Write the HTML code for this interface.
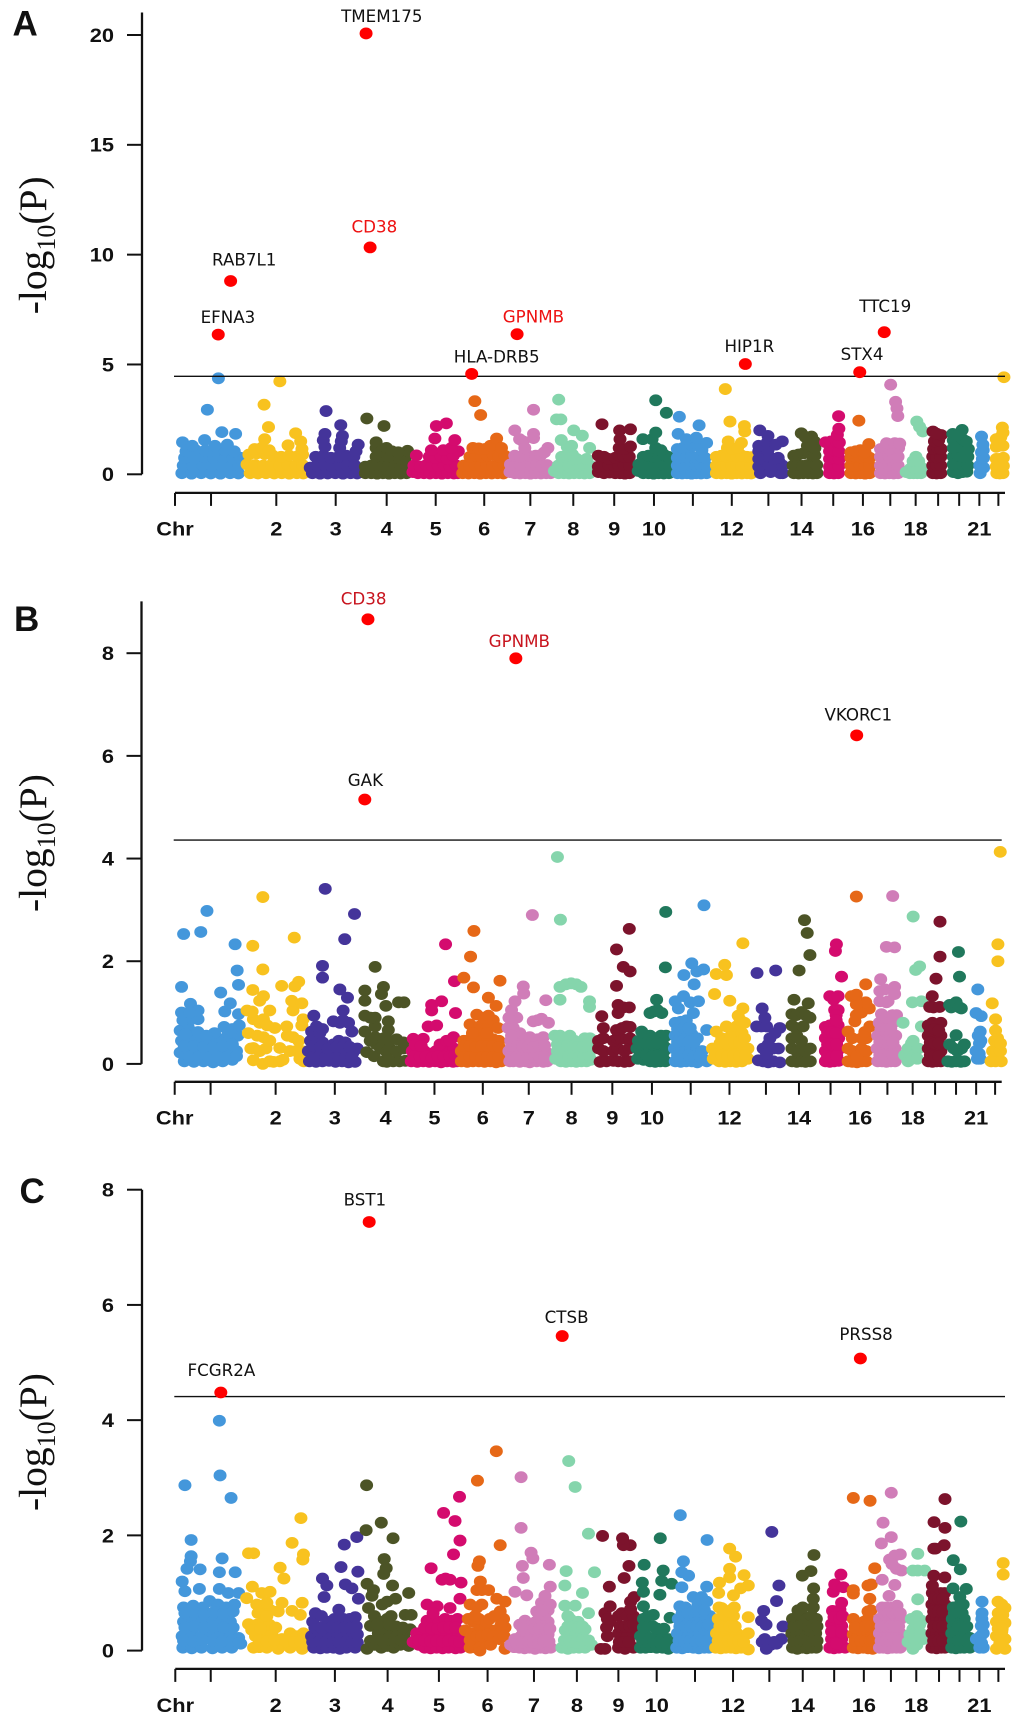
<!DOCTYPE html>
<html lang="en">
<head>
<meta charset="utf-8">
<title>Manhattan plots A, B and C</title>
<style>
html,body{margin:0;padding:0;background:#fff;}
svg{display:block;}
.letter{font-family:"Liberation Sans",sans-serif;font-weight:700;font-size:35px;fill:#111;}
.ytitle{font-family:"Liberation Serif",serif;font-size:39.5px;fill:#111;}
.tick{font-family:"Liberation Sans",sans-serif;font-weight:700;font-size:19.3px;fill:#111;}
.gene{font-family:"DejaVu Sans",sans-serif;font-size:16.7px;text-anchor:middle;}
</style>
</head>
<body>
<svg xmlns="http://www.w3.org/2000/svg" width="1020" height="1722" viewBox="0 0 1020 1722">
  <rect x="0" y="0" width="1020" height="1722" fill="#fff"></rect>
  <g>
    <text class="letter" x="12.5" y="35.7">A</text>
    <text class="ytitle" transform="translate(46,314.3)rotate(-90)">-log<tspan dy="9" font-size="26">10</tspan><tspan dy="-9">(P)</tspan></text>
    <g id="plot-a"></g>
  </g>
  <g>
    <text class="letter" x="14" y="631">B</text>
    <text class="ytitle" transform="translate(46,912)rotate(-90)">-log<tspan dy="9" font-size="26">10</tspan><tspan dy="-9">(P)</tspan></text>
    <g id="plot-b"></g>
  </g>
  <g>
    <text class="letter" x="19.5" y="1203">C</text>
    <text class="ytitle" transform="translate(46,1511)rotate(-90)">-log<tspan dy="9" font-size="26">10</tspan><tspan dy="-9">(P)</tspan></text>
    <g id="plot-c"></g>
  </g>
</svg>
<script>
// Genome layout: chromosome lengths in genome units; dot positions are percent along a chromosome.
const chromosomeLengths = [239,219,189,170,173,168,151,149,139,127,137,147,118,118,85,102,95,80,73,90,59,68];
const chromosomeColors = ['#4497DB','#F8C21F','#44349A','#4C5426','#D40B6E','#E66817','#D07DB8','#85D5AC','#7C132C','#20785C','#4497DB','#F8C21F','#44349A','#4C5426','#D40B6E','#E66817','#D07DB8','#85D5AC','#7C132C','#20785C','#4497DB','#F8C21F'];
const xTickLabels = ['Chr','','2','3','4','5','6','7','8','9','10','','12','','14','','16','','18','','','21',''];
const xTicksAB = [0,125,351.5,557.6,734.5,904.6,1073,1233,1382,1524,1662,1797,1932,2059,2174,2284,2387,2482,2570,2648,2721,2791,2857];
const xTicksC = [0,123,348.5,554,737,915,1084,1245,1394,1538,1671,1804,1936,2062,2178,2287,2390,2484,2572,2651,2722,2791,2857];

// Panel A: [percent along chromosome, -log10 P]
const a01 = [[10,.05],[24,.03],[38,.05],[52,.04],[66,.03],[80,.05],[92,.04],[12,.4],[26,.38],[40,.42],[54,.4],[68,.38],[82,.42],[93,.4],[14,.75],[28,.72],[42,.78],[56,.74],[70,.76],[84,.72],[95,.75],[16,1.05],[30,1.1],[44,1.08],[58,1.05],[72,1.1],[86,1.05],[11,1.46],[43,1.56],[25,1.3],[58,1.3],[76,1.35],[68,1.92],[88,1.84],[47,2.94],[63,4.37]];
const a02 = [[10,.05],[22,.04],[35,.05],[48,.04],[60,.05],[72,.03],[84,.05],[94,.04],[5,.45],[18,.42],[31,.4],[44,.44],[57,.4],[70,.42],[83,.4],[93,.42],[8,.9],[20,.95],[33,.92],[46,.85],[59,.8],[72,.85],[85,.82],[93,.9],[17,1.15],[28,1.2],[40,1.1],[33,1.6],[70,1.32],[82,1.87],[90,1.5],[92,1.15],[32,3.17],[39,2.15],[57,4.23]];
const a03 = [[10,.05],[24,.03],[38,.04],[52,.05],[66,.03],[80,.05],[92,.04],[6,.3],[18,.4],[32,.42],[46,.38],[60,.42],[74,.4],[88,.4],[16,.8],[30,.85],[44,.75],[58,.8],[72,.85],[86,.8],[33,1.25],[30,1.55],[33,1.84],[60,1.2],[63,1.5],[65,1.75],[62,2.24],[94,1.35],[90,1.05],[35,2.88]];
const a04 = [[8,.05],[20,.05],[32,.03],[44,.05],[56,.03],[68,.05],[80,.04],[92,.05],[8,.35],[20,.4],[32,.42],[44,.38],[56,.42],[68,.4],[80,.38],[92,.42],[30,.8],[42,.85],[54,.8],[66,.75],[78,.72],[90,.78],[30,1.2],[30,1.46],[40,1.05],[51,1.2],[62,1.05],[94,1.07],[75,1],[11,2.54],[46,2.2]];
const a05 = [[5,.1],[15,.05],[27,.05],[39,.04],[51,.05],[63,.03],[75,.05],[87,.04],[95,.05],[7,.4],[20,.35],[32,.42],[44,.4],[56,.38],[68,.42],[80,.35],[92,.4],[12,.86],[38,.8],[50,.75],[62,.8],[74,.7],[86,.85],[96,1.05],[42,1.1],[66,1.1],[82,1.2],[49,1.63],[89,1.56],[52,2.2],[72,2.32]];
const a06 = [[5,.05],[17,.04],[29,.05],[41,.03],[53,.05],[65,.04],[77,.05],[89,.04],[7,.4],[19,.4],[31,.42],[43,.38],[55,.42],[67,.38],[79,.42],[91,.4],[20,.8],[32,.85],[44,.8],[56,.85],[68,.9],[80,.8],[92,.85],[26,1.2],[38,1.18],[50,1.15],[62,1.3],[75,1.63],[85,1.2],[30,3.33],[42,2.7]];
const a07 = [[3,.1],[14,.05],[26,.04],[38,.05],[50,.03],[62,.05],[74,.04],[86,.05],[96,.05],[4,.45],[16,.4],[28,.42],[40,.38],[52,.42],[64,.4],[76,.38],[88,.42],[14,.85],[26,.8],[38,.85],[50,.82],[62,.85],[74,.88],[90,1.2],[82,1],[14,2],[25,1.6],[33,1.5],[57,1.84],[57,1.65],[57,2.94],[37,1.2]];
const a08 = [[5,.15],[15,.05],[27,.05],[39,.04],[51,.05],[63,.05],[75,.04],[87,.05],[14,.4],[26,.42],[38,.38],[50,.42],[62,.4],[74,.42],[88,.4],[22,.8],[35,.85],[47,.9],[57,.7],[80,.7],[21,1.56],[35,1.25],[45,1.3],[50,2],[70,1.76],[87,1.2],[10,2.5],[20,2.5],[15,3.4]];
const a09 = [[8,.1],[22,.05],[36,.08],[50,.05],[62,.05],[74,.03],[86,.05],[8,.35],[20,.4],[34,.42],[48,.4],[60,.38],[72,.42],[86,.4],[8,.85],[22,.8],[34,.7],[50,.75],[60,.85],[72,.8],[85,.8],[60,1.2],[72,1.15],[88,1.27],[62,1.6],[61,2],[88,2.05],[17,2.28]];
const a10 = [[8,.15],[22,.05],[36,.05],[50,.03],[64,.05],[78,.04],[92,.05],[10,.45],[24,.4],[38,.42],[52,.38],[66,.42],[80,.4],[92,.42],[22,.8],[36,.85],[50,.8],[64,.9],[78,.9],[90,.8],[56,1.2],[70,1.1],[21,1.6],[46,1.6],[56,1.9],[56,3.37],[85,2.8]];
const a11 = [[14,.05],[26,.04],[38,.05],[50,.03],[62,.05],[74,.04],[88,.05],[14,.4],[26,.38],[38,.42],[50,.4],[62,.38],[74,.42],[86,.4],[14,.75],[26,.8],[38,.78],[50,.82],[62,.76],[74,.8],[84,.75],[14,1.15],[28,1.2],[40,1.25],[52,1.3],[64,1.35],[76,1.1],[88,1.43],[16,1.84],[37,1.6],[62,1.67],[19,2.62],[69,2.23]];
const a12 = [[12,.05],[24,.04],[36,.05],[48,.03],[60,.05],[72,.04],[84,.05],[94,.04],[12,.4],[24,.42],[36,.38],[48,.4],[60,.42],[72,.38],[84,.4],[94,.42],[12,.8],[24,.85],[36,.8],[48,.85],[60,.82],[72,.85],[84,.8],[94,.78],[38,1.2],[50,1.15],[71,1.43],[62,1.2],[40,1.5],[44,2.4],[79,1.95],[78,2.2],[33,3.88]];
const a13 = [[20,.05],[35,.4],[50,.1],[78,.05],[85,.05],[15,.35],[30,.6],[45,.45],[60,.4],[75,.55],[85,.4],[15,.7],[30,.9],[45,.8],[60,.7],[72,.75],[15,1.05],[30,1.2],[42,1.1],[15,1.3],[40,1.45],[42,1.75],[84,1.5],[65,1.35],[18,2]];
const a14 = [[18,.05],[32,.04],[46,.05],[60,.05],[74,.04],[86,.05],[16,.4],[30,.42],[44,.38],[58,.42],[72,.4],[85,.42],[18,.85],[32,.9],[46,.95],[60,1],[72,.85],[80,.85],[58,1.3],[70,1.3],[80,1.2],[78,1.5],[70,1.72],[40,1.87],[52,1.7]];
const a15 = [[32,.05],[50,.04],[68,.05],[32,.35],[50,.4],[70,.38],[32,.7],[50,.75],[72,.7],[32,1.05],[52,1.1],[70,1.05],[16,1.46],[38,1.5],[60,1.5],[72,1.45],[64,1.8],[70,2.08],[69,2.65]];
const a16 = [[16,.05],[32,.04],[48,.05],[64,.03],[80,.05],[16,.4],[32,.38],[48,.42],[64,.4],[80,.38],[16,.75],[32,.8],[48,.78],[64,.8],[80,.75],[16,1],[32,1.05],[48,1.1],[64,1],[77,1.38],[43,2.44]];
const a17 = [[18,.05],[34,.04],[50,.05],[66,.04],[82,.05],[18,.4],[34,.42],[50,.38],[66,.42],[82,.4],[18,.8],[34,.75],[50,.8],[66,.78],[82,.8],[18,1.15],[34,1.2],[50,1.15],[66,1.2],[84,1.2],[40,1.42],[70,1.42],[88,1.4],[55,4.08],[73,3.3],[78,3],[81,2.65]];
const a18 = [[14,.1],[30,.05],[46,.05],[62,.05],[78,.05],[32,.25],[48,.3],[66,.3],[80,.3],[44,.6],[56,.8],[68,.6],[60,2.4],[72,2.16],[86,1.95]];
const a19 = [[32,.05],[50,.04],[70,.05],[32,.4],[50,.42],[70,.4],[32,.8],[50,.78],[70,.8],[36,1.15],[56,1.2],[72,1.15],[40,1.5],[60,1.55],[33,1.95],[72,1.79],[50,1.85]];
const a20 = [[24,.1],[42,.05],[60,.1],[76,.12],[24,.45],[42,.4],[60,.42],[80,.4],[24,.8],[42,.85],[60,.8],[80,.8],[24,1.2],[42,1.25],[60,1.2],[82,1.15],[24,1.55],[42,1.6],[60,1.6],[74,1.5],[22,1.84],[40,1.78],[58,2.02]];
const a21 = [[42,.05],[50,.3],[62,.3],[40,.4],[55,.7],[62,.75],[50,1],[60,1.1],[58,1.35],[50,1.72]];
const a22 = [[35,.05],[50,.04],[66,.05],[32,.35],[50,.4],[68,.38],[32,.7],[50,.7],[68,.75],[32,1.25],[50,1.3],[66,1.3],[32,1.6],[55,1.7],[66,1.9],[63,2.13],[71,4.42]];

// Panel B
const b01 = [[14,.05],[28,.04],[42,.05],[56,.03],[70,.05],[84,.08],[8,.22],[20,.25],[34,.22],[48,.2],[62,.25],[76,.22],[90,.25],[10,.45],[24,.5],[38,.45],[52,.42],[66,.48],[80,.5],[92,.55],[8,.65],[20,.7],[34,.62],[58,.6],[72,.72],[84,.68],[94,.75],[12,.85],[26,.88],[34,.87],[10,1],[23,1.17],[34,1.04],[22,1],[73,1.02],[93,.97],[81,1.18],[67,1.39],[10,1.5],[93,1.54],[91,1.82],[88,2.33],[13,2.53],[38,2.57],[47,2.98],[21,.14],[35,.14],[49,.13],[63,.14],[77,.14],[90,.15],[14,.35],[28,.35],[42,.33],[56,.32],[70,.35],[84,.38],[16,.58],[46,.55],[78,.6]];
const b02 = [[16,.07],[31,0],[42,.05],[48,.04],[58,.05],[63,.08],[90,.1],[96,.05],[12,.3],[16,.31],[26,.25],[36,.3],[58,.31],[74,.25],[84,.25],[93,.25],[8,.6],[22,.55],[32,.52],[42,.45],[79,.52],[88,.45],[70,.55],[50,.7],[69,.73],[16,.87],[26,.8],[32,.87],[38,.75],[93,.75],[95,.87],[6,1.04],[14,1.02],[42,1.04],[79,1.04],[26,1.23],[32,1.32],[77,1.23],[93,1.18],[15,1.44],[61,1.52],[82,1.51],[88,1.6],[31,1.84],[15,2.3],[81,2.46],[31,3.25]];
const b03 = [[6,.05],[18,.04],[30,.05],[42,.06],[54,.04],[66,.05],[78,.03],[90,.04],[4,.25],[14,.22],[26,.24],[38,.2],[50,.22],[62,.25],[74,.2],[86,.22],[94,.3],[8,.45],[19,.5],[30,.42],[50,.38],[60,.45],[72,.42],[10,.63],[19,.73],[25,.6],[14,.94],[30,.68],[50,.83],[62,.8],[68,.85],[78,.8],[84,.63],[68,1.04],[76,1.29],[62,1.45],[30,1.68],[30,1.91],[71,2.43],[89,2.92],[35,3.41],[12,.14],[24,.14],[36,.13],[48,.14],[60,.14],[72,.12],[84,.13],[14,.35],[26,.33],[40,.3],[56,.33],[68,.33],[80,.33]];
const b04 = [[13,.23],[28,.15],[47,.05],[54,.04],[67,.05],[80,.05],[92,.06],[33,.38],[42,.3],[54,.23],[60,.3],[74,.25],[88,.3],[20,.45],[30,.52],[47,.5],[60,.45],[74,.48],[88,.42],[9,.63],[30,.73],[57,.66],[9,.94],[30,.9],[57,.83],[20,.9],[52,1.13],[9,1.23],[9,1.43],[43,1.36],[47,1.5],[78,1.2],[89,1.2],[30,1.89]];
const b05 = [[4,.05],[16,.04],[28,.05],[40,.04],[52,.05],[64,.03],[76,.05],[88,.04],[96,.05],[6,.25],[18,.22],[30,.25],[42,.2],[54,.25],[66,.22],[78,.25],[90,.3],[8,.49],[28,.49],[18,.45],[62,.38],[75,.45],[89,.52],[82,.45],[38,.73],[55,.75],[45,1.04],[45,1.15],[65,1.22],[93,.99],[91,1.61],[73,2.33],[10,.15],[22,.14],[34,.15],[46,.12],[58,.15],[70,.14],[82,.15],[92,.17],[12,.37],[24,.35]];
const b06 = [[5,.05],[17,.04],[29,.05],[41,.05],[53,.04],[65,.05],[77,.03],[88,.05],[5,.25],[17,.22],[29,.25],[41,.2],[53,.25],[65,.22],[77,.25],[88,.22],[10,.45],[23,.48],[35,.42],[47,.5],[59,.45],[71,.48],[83,.45],[23,.77],[37,.65],[43,.73],[52,.8],[61,.75],[71,.85],[81,.7],[37,.96],[52,.9],[61,.94],[77,1.13],[61,1.29],[85,1.62],[10,1.68],[30,1.49],[24,2.09],[31,2.59],[11,.15],[23,.14],[35,.15],[47,.12],[59,.14],[71,.14],[83,.14],[11,.35],[23,.35],[35,.33],[47,.35],[59,.35],[71,.35],[83,.33],[28,.6],[58,.6]];
const b07 = [[6,.05],[14,.05],[29,.04],[42,.05],[52,.03],[68,.05],[83,.04],[92,.05],[4,.25],[16,.22],[29,.25],[42,.2],[55,.25],[68,.22],[80,.25],[91,.22],[8,.45],[20,.48],[29,.6],[42,.48],[52,.52],[64,.38],[70,.48],[83,.52],[2,.7],[14,.7],[22,.9],[4,.9],[10,1.05],[18,1.22],[60,.83],[70,.85],[79,.88],[95,.8],[89,1.24],[37,1.51],[38,1.37],[58,2.9],[10,.15],[22,.14],[35,.15],[48,.13],[62,.14],[74,.14],[86,.14],[10,.35],[24,.35],[36,.33],[48,.33],[60,.33],[74,.35],[86,.36],[10,.55]];
const b08 = [[12,.1],[24,.05],[36,.04],[48,.05],[60,.04],[72,.05],[84,.05],[94,.08],[16,.25],[28,.22],[40,.25],[52,.2],[64,.25],[76,.22],[88,.25],[10,.55],[22,.45],[34,.48],[45,.55],[56,.45],[68,.42],[80,.5],[92,.5],[22,.55],[91,1.22],[91,1.11],[22,1.25],[22,1.5],[36,1.55],[48,1.57],[60,1.55],[71,1.5],[23,2.81],[16,4.03],[18,.15],[30,.13],[42,.15],[54,.13],[66,.14],[78,.14],[90,.17],[16,.38],[28,.35],[40,.36],[52,.33],[64,.33],[76,.33],[88,.38]];
const b09 = [[17,.04],[33,.05],[50,.06],[62,.05],[78,.04],[90,.05],[13,.3],[25,.25],[50,.25],[62,.3],[78,.25],[90,.3],[13,.45],[25,.5],[50,.45],[60,.5],[70,.5],[83,.48],[92,.5],[25,.7],[58,.66],[72,.7],[83,.73],[92,.72],[21,.93],[62,.99],[62,1.15],[75,1.1],[90,1.1],[58,1.52],[75,1.89],[92,1.8],[58,2.23],[90,2.63]];
const b10 = [[12,.1],[28,.08],[46,.05],[60,.04],[74,.05],[88,.05],[10,.3],[24,.28],[40,.3],[56,.25],[70,.28],[84,.25],[92,.3],[23,.63],[14,.45],[32,.5],[46,.55],[60,.5],[76,.55],[90,.55],[46,.99],[56,1.02],[66,1.05],[78,.99],[64,1.25],[88,1.88],[89,2.96],[20,.18],[36,.18],[52,.15],[66,.16],[80,.15],[18,.4],[36,.4],[50,.4],[66,.4],[80,.4]];
const b11 = [[14,.05],[28,.04],[42,.05],[56,.05],[70,.03],[84,.1],[94,.05],[12,.3],[26,.3],[40,.28],[54,.3],[68,.25],[82,.25],[14,.55],[28,.6],[42,.55],[56,.58],[70,.5],[14,.8],[28,.82],[42,.85],[52,.7],[94,.66],[60,.99],[22,1.08],[35,1.32],[14,1.22],[52,1.2],[73,1.22],[62,1.55],[36,1.73],[69,1.8],[86,1.84],[56,1.96],[87,3.09],[20,.17],[34,.16],[48,.17],[62,.15],[76,.15],[20,.43],[34,.45],[48,.43],[62,.42],[20,.68],[36,.7],[48,.7]];
const b12 = [[10,.1],[24,.05],[38,.04],[50,.05],[64,.04],[78,.05],[92,.1],[8,.3],[20,.28],[32,.3],[44,.25],[56,.28],[68,.25],[80,.3],[92,.3],[17,.63],[30,.5],[41,.73],[52,.55],[65,.73],[78,.6],[84,.8],[69,.94],[80,1.08],[74,.85],[13,1.36],[49,1.23],[17,1.75],[41,1.73],[37,1.93],[80,2.35],[14,.18],[30,.17],[44,.15],[58,.16],[72,.15],[86,.17],[26,.4],[40,.4],[60,.42],[72,.42],[84,.5]];
const b13 = [[21,.07],[35,.05],[50,.03],[65,.05],[84,.03],[35,.3],[50,.38],[65,.3],[80,.3],[45,.2],[16,.73],[30,.73],[45,.73],[70,.6],[84,.7],[55,.5],[40,.9],[32,1.08],[17,1.77],[72,1.82]];
const b14 = [[20,.05],[34,.04],[48,.05],[60,.04],[74,.05],[20,.3],[34,.25],[48,.3],[60,.25],[74,.3],[20,.5],[34,.55],[48,.45],[20,.75],[32,.7],[53,.73],[20,.97],[33,.95],[48,1.01],[60,.95],[73,.9],[26,1.25],[68,1.18],[41,1.82],[73,2.12],[65,2.55],[57,2.8]];
const b15 = [[26,.05],[44,.04],[62,.05],[80,.06],[26,.25],[44,.22],[62,.25],[80,.28],[26,.5],[44,.52],[62,.48],[80,.5],[26,.72],[44,.75],[62,.7],[78,.75],[64,1.05],[78,1.05],[70,.95],[44,1.32],[60,1.25],[78,1.32],[92,1.7],[67,2.2],[71,2.33],[35,.15],[53,.13],[72,.16],[35,.38],[53,.38],[72,.38],[35,.62],[53,.62],[70,.6],[70,.85]];
const b16 = [[16,.05],[30,.04],[46,.03],[62,.05],[78,.05],[16,.3],[30,.25],[46,.15],[62,.3],[78,.25],[16,.63],[30,.5],[62,.5],[78,.5],[73,.62],[90,.73],[39,.83],[44,.95],[61,1],[88,1.08],[76,1.2],[44,1.16],[27,1.32],[44,1.35],[76,1.55],[44,3.26]];
const b17 = [[18,.05],[34,.05],[50,.04],[66,.05],[82,.05],[16,.3],[34,.28],[50,.3],[66,.25],[82,.3],[18,.55],[34,.55],[50,.5],[66,.55],[84,.55],[24,.8],[40,.8],[58,.8],[74,.8],[32,.97],[50,.9],[87,.95],[72,.95],[26,1.22],[50,1.2],[56,1.22],[26,1.42],[29,1.65],[45,1.45],[80,1.5],[80,1.36],[50,2.28],[80,2.27],[73,3.27],[26,.17],[42,.17],[58,.15],[74,.17],[26,.43],[42,.42],[58,.42],[74,.42],[30,.68],[50,.67],[66,.68]];
const b18 = [[20,.17],[35,.3],[50,.4],[64,.17],[80,.3],[57,.45],[35,.05],[50,.1],[75,.1],[93,.73],[13,.8],[54,1.2],[93,1.22],[68,1.83],[85,1.9],[57,2.87]];
const b19 = [[25,.05],[45,.04],[65,.05],[85,.05],[25,.3],[45,.25],[65,.3],[85,.25],[25,.55],[45,.55],[65,.5],[85,.55],[25,.75],[45,.8],[65,.75],[85,.8],[32,1.11],[50,1.1],[79,1.11],[44,1.32],[62,1.66],[81,2.09],[81,2.77],[35,.17],[55,.15],[75,.15],[35,.42],[55,.4],[75,.4],[35,.65],[55,.68],[75,.65]];
const b20 = [[15,.05],[30,.04],[47,.05],[65,.04],[79,.05],[22,.38],[38,.3],[52,.25],[68,.3],[47,.56],[79,.38],[28,1.1],[22,1.15],[38,1.15],[47,1.2],[60,1.1],[67,1.08],[60,1.7],[56,2.18]];
const b21 = [[45,.1],[60,.1],[37,.25],[55,.2],[57,.4],[65,.45],[50,.55],[61,.63],[67,.93],[37,.99],[47,1.45]];
const b22 = [[22,.05],[45,.05],[74,.05],[30,.25],[50,.25],[70,.25],[40,.45],[55,.5],[70,.4],[45,.65],[45,.87],[28,1.18],[57,2],[57,2.33],[69,4.13]];

// Panel C
const c01 = [[11,.05],[24,.04],[38,.05],[54,.04],[68,.05],[82,.05],[95,.12],[10,.25],[24,.28],[38,.25],[52,.3],[66,.28],[80,.25],[92,.22],[12,.5],[26,.55],[40,.52],[54,.55],[68,.5],[80,.5],[12,.75],[26,.78],[40,.75],[50,.86],[62,.8],[74,.75],[86,.8],[10,1.2],[14,1.03],[35,1.07],[64,1.07],[77,1],[92,1],[17,1.42],[36,1.41],[64,1.36],[87,1.36],[22,1.55],[23,1.64],[68,1.6],[23,1.92],[81,2.65],[14,2.87],[65,3.04],[64,3.99],[12,.17],[26,.16],[40,.18],[54,.17],[68,.16],[82,.17],[92,.13],[14,.4],[28,.42],[42,.4],[56,.42],[70,.4],[84,.4],[14,.65],[28,.66],[42,.65],[56,.67],[70,.64],[84,.68]];
const c02 = [[15,.05],[24,.06],[36,.05],[54,.03],[62,.1],[73,.05],[92,.03],[18,.25],[31,.3],[44,.3],[60,.2],[73,.3],[84,.25],[94,.3],[7,.46],[20,.45],[31,.5],[40,.45],[31,.68],[54,.68],[42,.7],[20,.8],[36,.83],[60,.83],[76,.69],[89,.62],[92,.83],[4,.91],[13,1.11],[28,1],[41,1.02],[57,1.44],[63,1.25],[7,1.69],[15,1.69],[76,1.87],[93,1.58],[94,1.67],[90,2.3],[24,.17],[36,.16],[48,.18],[66,.16],[80,.15],[90,.16],[12,.36],[26,.38],[50,.4],[22,.65],[36,.6]];
const c03 = [[12,.05],[24,.04],[36,.05],[48,.05],[60,.03],[72,.05],[88,.05],[8,.25],[20,.25],[32,.28],[44,.22],[56,.25],[68,.25],[80,.22],[92,.28],[10,.5],[15,.65],[26,.6],[38,.5],[50,.55],[58,.71],[66,.55],[78,.55],[88,.58],[31,.93],[28,1.25],[36,1.13],[70,1.15],[82,1.08],[94,.9],[62,1.45],[93,1.37],[68,1.84],[91,1.97],[10,.15],[22,.16],[34,.15],[46,.14],[58,.15],[70,.15],[82,.14],[92,.14],[14,.4],[26,.4],[44,.4],[56,.4],[68,.4],[80,.4],[90,.42]];
const c04 = [[11,.03],[26,.1],[40,.05],[52,.08],[65,.05],[79,.1],[96,.08],[18,.43],[34,.3],[46,.3],[58,.35],[72,.25],[86,.25],[99,.37],[14,.74],[26,.6],[40,.5],[52,.55],[60,.6],[89,.62],[101,.62],[42,.8],[52,.85],[21,.95],[24,1.05],[11,1.16],[69,.9],[63,1.13],[96,1],[45,1.33],[50,1.43],[46,1.59],[64,1.95],[9,2.09],[40,2.22],[10,2.87],[18,.17],[30,.18],[42,.18],[54,.2],[66,.16],[80,.18],[44,.42],[56,.45],[70,.42],[32,.45],[84,.4]];
const c05 = [[5,.15],[16,.1],[28,.05],[40,.04],[52,.05],[64,.04],[76,.05],[90,.04],[100,.05],[12,.3],[24,.25],[36,.28],[48,.25],[60,.28],[72,.25],[84,.28],[96,.25],[33,.52],[45,.5],[57,.5],[69,.55],[81,.52],[94,.55],[33,.8],[53,.77],[79,.74],[99,.9],[63,1.23],[79,1.23],[70,1.25],[101,1.18],[41,1.43],[86,1.67],[99,1.91],[89,2.25],[66,2.39],[98,2.67],[16,.18],[28,.17],[40,.16],[52,.17],[64,.16],[76,.17],[88,.16],[98,.15],[28,.4],[42,.38],[54,.38],[66,.4],[78,.4],[90,.4],[45,.65]];
const c06 = [[20,.05],[32,.05],[40,0],[92,.03],[10,.35],[20,.3],[30,.3],[42,.4],[52,.45],[62,.35],[72,.35],[82,.3],[92,.4],[27,.5],[38,.55],[54,.5],[78,.6],[89,.55],[20,.8],[34,.75],[44,.8],[82,.68],[92,.85],[75,.9],[34,1.05],[44,1.05],[58,1.05],[41,1.2],[36,1.47],[39,1.55],[82,1.83],[35,2.95],[74,3.46],[50,.15],[62,.1],[30,.15],[20,.18],[34,.25],[44,.25],[56,.28],[68,.25],[80,.2],[90,.25],[16,.55],[30,.6],[60,.55],[70,.6],[84,.45]];
const c07 = [[12,.06],[24,.05],[36,.04],[48,.05],[60,.03],[72,.05],[84,.04],[96,.05],[4,.1],[14,.2],[28,.25],[42,.28],[54,.25],[66,.2],[78,.3],[90,.28],[25,.45],[37,.52],[50,.45],[62,.5],[76,.5],[90,.5],[64,.68],[75,.83],[83,.95],[90,.7],[95,.8],[41,.96],[14,1.02],[33,1.26],[95,1.11],[31,1.47],[93,1.49],[51,1.7],[55,1.6],[28,2.13],[28,3.01],[18,.12],[30,.14],[44,.16],[56,.14],[68,.12],[80,.16],[92,.16],[32,.38],[46,.38],[58,.38],[70,.38],[84,.38],[94,.38],[70,.62],[82,.62],[78,.7]];
const c08 = [[22,.05],[36,.03],[49,.05],[62,.05],[76,.05],[91,.1],[30,.35],[42,.3],[54,.25],[66,.35],[76,.37],[41,.55],[60,.5],[84,.65],[29,.78],[53,.78],[70,1],[29,1.13],[32,1.38],[98,1.36],[84,2.03],[53,2.84],[38,3.29],[28,.18],[42,.16],[56,.14],[70,.18],[84,.18],[36,.42],[48,.42],[60,.4],[70,.42],[36,.6]];
const c09 = [[14,.03],[24,.03],[58,.05],[74,.03],[95,.05],[30,.25],[58,.3],[68,.25],[80,.25],[95,.3],[24,.65],[36,.5],[58,.6],[66,.65],[80,.6],[95,.6],[37,.77],[88,.85],[97,.93],[35,1.11],[72,1.26],[84,1.47],[87,1.83],[70,1.83],[68,1.95],[18,1.99],[60,.15],[72,.15],[84,.15],[62,.42],[74,.42],[86,.42],[96,.45],[28,.4],[30,.55],[88,.72]];
const c10 = [[14,.05],[28,.05],[42,.06],[58,.05],[74,.05],[90,.03],[14,.25],[28,.25],[42,.22],[58,.25],[74,.22],[90,.2],[22,.55],[34,.6],[49,.62],[22,.77],[95,.57],[22,1.02],[19,1.18],[24,1.49],[67,.97],[72,1.21],[99,1.16],[76,1.39],[68,1.95],[20,.15],[36,.15],[50,.15],[66,.15],[82,.13],[22,.4],[34,.42],[48,.42],[60,.38],[78,.38]];
const c11 = [[12,.05],[26,.04],[40,.06],[54,.05],[68,.04],[82,.05],[94,.05],[14,.3],[28,.28],[42,.3],[56,.28],[70,.3],[84,.3],[96,.28],[16,.55],[30,.55],[44,.52],[58,.55],[72,.58],[86,.55],[96,.6],[20,.77],[34,.75],[54,.93],[75,.93],[66,.8],[88,.85],[25,1.1],[88,1.11],[25,1.36],[42,1.3],[29,1.55],[89,1.92],[21,2.35],[18,.17],[32,.16],[46,.17],[60,.16],[74,.17],[88,.17],[20,.42],[34,.42],[48,.42],[62,.42],[76,.42],[90,.42],[26,.65],[40,.65],[54,.68],[68,.68],[82,.7],[94,.45]];
const c12 = [[10,.05],[22,.04],[34,.05],[46,.05],[58,.04],[70,.05],[87,.02],[12,.3],[24,.28],[36,.3],[48,.3],[60,.3],[72,.25],[87,.3],[16,.55],[28,.5],[40,.55],[52,.6],[87,.58],[24,.74],[48,.71],[17,1],[19,1.18],[52,.96],[69,1.08],[87,1.13],[77,1.31],[43,1.27],[43,1.42],[57,1.63],[43,1.77],[16,.17],[28,.16],[40,.17],[52,.17],[64,.17],[76,.15],[20,.42],[32,.4],[44,.42],[56,.42],[18,.75],[30,.62],[42,.68],[54,.75]];
const c13 = [[25,.15],[37,.03],[50,.1],[67,.12],[81,.2],[23,.52],[29,.69],[36,.45],[86,.42],[67,.86],[74,1.13],[53,2.06],[32,.2],[60,.15]];
const c14 = [[14,.05],[28,.03],[42,.05],[56,.04],[70,.05],[84,.05],[12,.3],[26,.28],[40,.3],[54,.25],[68,.3],[82,.3],[14,.55],[28,.55],[42,.6],[56,.55],[70,.6],[84,.55],[30,.7],[44,.75],[75,.75],[75,.9],[76,1.08],[43,1.3],[68,1.38],[77,1.66],[18,.17],[32,.16],[46,.17],[60,.15],[74,.17],[86,.17],[18,.42],[32,.42],[46,.45],[60,.42],[74,.45],[86,.42]];
const c15 = [[33,.05],[50,.04],[70,.05],[95,.05],[40,.2],[60,.25],[81,.2],[40,.46],[60,.35],[81,.43],[44,.69],[74,.71],[81,.83],[47,1.02],[53,1.15],[88,1.1],[78,1.32],[40,.33],[60,.12],[81,.32],[50,.58],[74,.55],[85,.6]];
const c16 = [[24,.05],[40,.04],[58,.05],[74,.04],[90,.03],[24,.28],[40,.25],[58,.3],[74,.3],[86,.3],[24,.55],[32,.45],[60,.5],[74,.55],[74,.68],[84,.7],[24,.99],[24,1.05],[80,.9],[74,1.13],[85,1.15],[97,1.43],[24,2.65],[81,2.6],[30,.17],[50,.17],[66,.17],[82,.17],[30,.4],[66,.42],[84,.42],[90,.18]];
const c17 = [[14,.05],[28,.05],[44,.04],[60,.05],[76,.05],[90,.05],[14,.3],[28,.3],[44,.28],[60,.3],[76,.28],[90,.3],[14,.55],[30,.55],[46,.55],[62,.55],[78,.55],[92,.55],[24,.75],[49,.95],[62,.75],[78,.78],[40,.75],[24,1.23],[70,1.14],[94,1.39],[76,1.42],[51,1.58],[70,1.65],[90,1.67],[60,1.5],[21,1.86],[57,1.97],[27,2.22],[57,2.74],[20,.17],[36,.17],[52,.17],[68,.17],[84,.17],[20,.42],[36,.42],[52,.42],[68,.42],[84,.42],[30,.65],[46,.65],[62,.65],[78,.65],[90,.65]];
const c18 = [[22,.15],[43,.03],[60,.1],[87,.2],[43,.37],[36,.55],[60,.6],[80,.52],[64,.89],[43,1.39],[64,1.39],[94,1.39],[64,1.68],[30,.28],[50,.2],[76,.3],[50,.5],[72,.45]];
const c19 = [[28,.05],[50,.04],[72,.05],[90,.05],[28,.3],[50,.28],[72,.3],[90,.3],[28,.55],[50,.55],[72,.55],[90,.55],[28,.8],[50,.8],[72,.8],[90,.8],[30,1],[50,1],[70,1],[88,1],[30,1.13],[37,1.3],[89,1.27],[37,1.77],[45,1.77],[86,1.83],[38,2.23],[90,2.13],[90,2.63],[36,.17],[60,.17],[80,.17],[36,.42],[60,.42],[80,.42],[36,.68],[60,.68],[80,.68],[40,.9],[60,.9],[80,.9]];
const c20 = [[18,.05],[34,.04],[50,.05],[66,.05],[88,.05],[18,.3],[34,.3],[50,.28],[66,.3],[88,.22],[20,.55],[34,.55],[50,.55],[66,.55],[24,.75],[50,.8],[62,.8],[49,.93],[23,1.08],[74,1.07],[51,1.41],[24,1.57],[53,2.24],[24,.17],[42,.17],[58,.17],[76,.17],[24,.42],[42,.42],[58,.42],[76,.42],[28,.65],[42,.65],[58,.65]];
const c21 = [[40,.05],[60,.05],[20,.2],[45,.25],[60,.3],[49,.43],[60,.45],[53,.65],[53,.85],[50,.13],[52,.55]];
const c22 = [[33,.03],[76,.03],[33,.25],[55,.2],[76,.2],[33,.5],[55,.5],[76,.48],[41,.85],[60,.8],[76,.74],[67,1.32],[67,1.52],[50,.12],[60,.33],[42,.38],[62,.38],[42,.65],[65,.62]];

const seriesA = [a01,a02,a03,a04,a05,a06,a07,a08,a09,a10,a11,a12,a13,a14,a15,a16,a17,a18,a19,a20,a21,a22];
const seriesB = [b01,b02,b03,b04,b05,b06,b07,b08,b09,b10,b11,b12,b13,b14,b15,b16,b17,b18,b19,b20,b21,b22];
const seriesC = [c01,c02,c03,c04,c05,c06,c07,c08,c09,c10,c11,c12,c13,c14,c15,c16,c17,c18,c19,c20,c21,c22];

// Significant genes
const hitGenesA = ['TMEM175','CD38','RAB7L1','EFNA3','HLA-DRB5','GPNMB','HIP1R','STX4','TTC19'];
const hitPosA = [663,677,193,150,1029.5,1187,1979,2376,2461];
const hitValsA = [20.07,10.33,8.8,6.36,4.57,6.38,5.02,4.65,6.47];
const hitColorsA = ['#111','#ee1111','#111','#111','#111','#ee1111','#111','#111','#111'];
const hitGenesB = ['CD38','GPNMB','VKORC1','GAK'];
const hitPosB = [673,1188,2375,662];
const hitValsB = [8.66,7.9,6.4,5.15];
const hitColorsB = ['#c8141e','#c8141e','#111','#111'];
const hitGenesC = ['BST1','FCGR2A','CTSB','PRSS8'];
const hitPosC = [673,158,1343,2378];
const hitValsC = [7.44,4.48,5.46,5.07];
const hitColorsC = ['#111','#111','#111','#111'];

const yTicksA = [0,5,10,15,20];
const yTicksB = [0,2,4,6,8];
const yTicksC = [0,2,4,6,8];
const thresholdA = 4.46;
const thresholdB = 4.36;
const thresholdC = 4.41;

// Layout only (not data)
const labelNudgeA = [[15.7,-11.6],[4.3,-14.7],[13.6,-15.6],[9.7,-11.8],[25,-11.5],[16.3,-11.5],[4,-12.2],[2.3,-12.4],[1,-20.4]];
const labelNudgeB = [[-4.3,-14.7],[3.5,-11.4],[1.6,-15],[.6,-13.6]];
const labelNudgeC = [[-4.3,-16.4],[.6,-16.4],[4.4,-12.9],[5.7,-18.3]];

const SVGNS = 'http://www.w3.org/2000/svg';

function linearScale(d0, d1, r0, r1) {
  return function (v) { return r0 + (v - d0) / (d1 - d0) * (r1 - r0); };
}

function drawLine(g, x1, y1, x2, y2, width, name) {
  const el = document.createElementNS(SVGNS, 'line');
  el.setAttribute('x1', x1);
  el.setAttribute('y1', y1);
  el.setAttribute('x2', x2);
  el.setAttribute('y2', y2);
  el.setAttribute('stroke', '#111');
  el.setAttribute('stroke-width', width);
  
  
  g.appendChild(el);
}

function drawTickText(g, x, y, anchor, str, name) {
  const el = document.createElementNS(SVGNS, 'text');
  el.setAttribute('class', 'tick');
  el.setAttribute('text-anchor', anchor);
  el.setAttribute('transform', 'translate(' + x + ',' + y + ') scale(1.13,1)');
  el.textContent = str;
  
  
  g.appendChild(el);
}

function renderPanel(cfg) {
  const g = document.getElementById(cfg.id);
  const xScale = linearScale(0, 2880, cfg.xLeft, cfg.xRight);
  const yScale = linearScale(cfg.yTicks[0], cfg.yTicks[cfg.yTicks.length - 1], cfg.yBottom, cfg.yTop);

  drawLine(g, cfg.yAxisX, cfg.yAxisTop, cfg.yAxisX, yScale(0), 2.3, 'y-axis-line');
  cfg.yTicks.forEach(function (t) {
    drawLine(g, cfg.yAxisX - 15, yScale(t), cfg.yAxisX, yScale(t), 2, 'y-axis-tick');
    drawTickText(g, 114, yScale(t) + 6.9, 'end', String(t), 'y-axis-tick-label');
  });

  drawLine(g, cfg.xLeft, cfg.xAxisY, cfg.xRight, cfg.xAxisY, 2.3, 'x-axis-line');
  cfg.xTicks.forEach(function (t, i) {
    drawLine(g, xScale(t), cfg.xAxisY, xScale(t), cfg.xAxisY + 13, 2, 'x-axis-tick');
    if (xTickLabels[i]) {
      drawTickText(g, xScale(t), cfg.xLabelY, 'middle', xTickLabels[i], 'x-axis-tick-label');
    }
  });

  let offset = 0;
  cfg.series.forEach(function (points, c) {
    points.forEach(function (pt) {
      const el = document.createElementNS(SVGNS, 'ellipse');
      el.setAttribute('cx', xScale(offset + pt[0] / 100 * chromosomeLengths[c]));
      el.setAttribute('cy', yScale(pt[1]));
      el.setAttribute('rx', 6.5);
      el.setAttribute('ry', 5.9);
      el.setAttribute('fill', chromosomeColors[c]);
      
      
      g.appendChild(el);
    });
    offset += chromosomeLengths[c];
  });

  drawLine(g, cfg.xLeft - 1, yScale(cfg.threshold), cfg.xRight, yScale(cfg.threshold), 1.4, 'significance-threshold-line');

  cfg.hitGenes.forEach(function (gene, i) {
    const px = xScale(cfg.hitPos[i]);
    const py = yScale(cfg.hitVals[i]);
    const dot = document.createElementNS(SVGNS, 'ellipse');
    dot.setAttribute('cx', px);
    dot.setAttribute('cy', py);
    dot.setAttribute('rx', 6.5);
    dot.setAttribute('ry', 5.9);
    dot.setAttribute('fill', '#ff0000');
    
    
    g.appendChild(dot);

    const label = document.createElementNS(SVGNS, 'text');
    label.setAttribute('class', 'gene');
    label.setAttribute('x', px + cfg.nudge[i][0]);
    label.setAttribute('y', py + cfg.nudge[i][1]);
    label.setAttribute('fill', cfg.hitColors[i]);
    label.textContent = gene;
    
    
    g.appendChild(label);
  });
}

renderPanel({id:'plot-a', series:seriesA, xTicks:xTicksAB, yTicks:yTicksA, threshold:thresholdA, hitGenes:hitGenesA, hitPos:hitPosA, hitVals:hitValsA, hitColors:hitColorsA, nudge:labelNudgeA, xLeft:175, xRight:1005, yBottom:474.3, yTop:35, yAxisX:142, yAxisTop:12.5, xAxisY:492.9, xLabelY:535.7});
renderPanel({id:'plot-b', series:seriesB, xTicks:xTicksAB, yTicks:yTicksB, threshold:thresholdB, hitGenes:hitGenesB, hitPos:hitPosB, hitVals:hitValsB, hitColors:hitColorsB, nudge:labelNudgeB, xLeft:174.7, xRight:1001.7, yBottom:1063.9, yTop:653.2, yAxisX:141.5, yAxisTop:601.4, xAxisY:1081.8, xLabelY:1124.6});
renderPanel({id:'plot-c', series:seriesC, xTicks:xTicksC, yTicks:yTicksC, threshold:thresholdC, hitGenes:hitGenesC, hitPos:hitPosC, hitVals:hitValsC, hitColors:hitColorsC, nudge:labelNudgeC, xLeft:175.3, xRight:1005, yBottom:1650.6, yTop:1189.7, yAxisX:142, yAxisTop:1189.7, xAxisY:1668.9, xLabelY:1712});
</script>
</body>
</html>
